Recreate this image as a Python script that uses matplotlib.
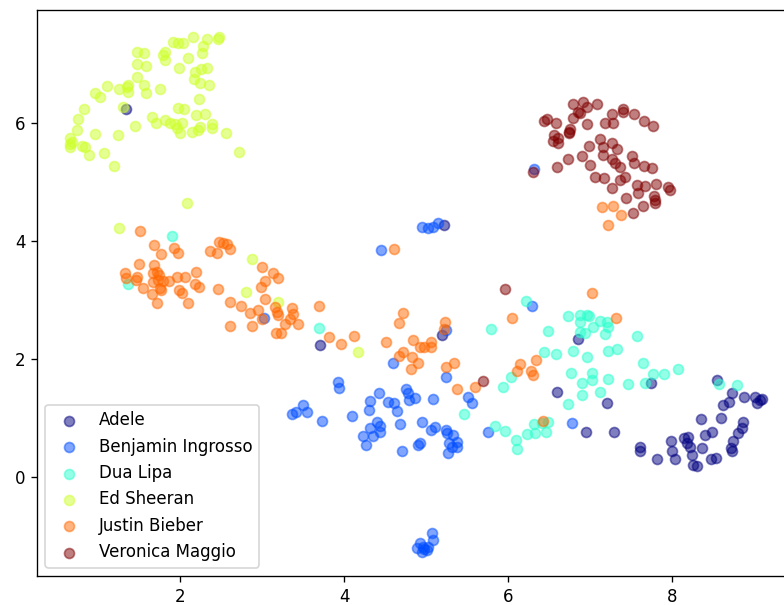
import matplotlib.pyplot as plt
import numpy as np

artists = ["Adele", "Benjamin Ingrosso", "Dua Lipa", "Ed Sheeran",
           "Justin Bieber", "Veronica Maggio"]

# 2D embedding coordinates (x, y), one array per artist
adele = np.array([
    (1.34, 6.24), (3.71, 2.24), (5.20, 2.41), (5.22, 4.27), (6.85, 2.34),
    (7.74, 1.59), (6.60, 1.44), (7.21, 1.25), (6.95, 0.76), (7.29, 0.76),
    (7.61, 0.51), (7.61, 0.44), (7.82, 0.31), (7.99, 0.61), (8.00, 0.44),
    (8.04, 0.31), (8.15, 0.66), (8.20, 0.68), (8.18, 0.58), (8.22, 0.51),
    (8.24, 0.37), (8.26, 0.20), (8.30, 0.19), (8.35, 0.98), (8.37, 0.49),
    (8.40, 0.71), (8.49, 0.76), (8.48, 0.31), (8.54, 0.32), (8.60, 1.00),
    (8.62, 1.22), (8.70, 1.27), (8.73, 1.42), (8.55, 1.64), (8.88, 1.36),
    (9.01, 1.36), (9.04, 1.25), (9.07, 1.31), (9.10, 1.32), (8.87, 0.93),
    (8.85, 0.83), (8.80, 0.75), (8.74, 0.61), (8.72, 0.49), (8.73, 0.44),
])

benjamin = np.array([
    (4.95, 4.24), (5.02, 4.22), (5.09, 4.24), (5.15, 4.31), (4.45, 3.85),
    (6.29, 2.90), (6.32, 5.22), (3.02, 2.69), (5.24, 2.49), (5.24, 1.69),
    (5.51, 1.36), (4.60, 1.93), (3.93, 1.61), (3.94, 1.51), (4.43, 1.42),
    (4.76, 1.49), (4.78, 1.42), (3.37, 1.07), (3.42, 1.10), (3.50, 1.22),
    (3.55, 1.10), (3.73, 0.95), (4.10, 1.03), (4.32, 1.29), (4.30, 1.14),
    (4.54, 1.27), (4.61, 1.25), (4.65, 1.12), (4.79, 1.31), (4.87, 1.34),
    (5.09, 1.32), (4.40, 0.93), (4.44, 0.86), (4.32, 0.83), (4.23, 0.69),
    (4.27, 0.54), (4.35, 0.69), (4.44, 0.76), (4.68, 0.90), (4.95, 0.93),
    (5.06, 0.80), (5.11, 0.85), (5.24, 0.80), (5.26, 0.75), (5.33, 0.71),
    (5.28, 0.58), (5.38, 0.59), (5.32, 0.51), (5.27, 0.41), (5.38, 0.51),
    (4.90, 0.54), (4.93, 0.58), (4.71, 0.44), (5.76, 0.76), (5.56, 1.25),
    (4.93, -1.12), (4.96, -1.19), (4.89, -1.20), (5.01, -1.24), (5.07, -0.95),
    (5.09, -1.07), (4.95, -1.27), (4.98, -1.22), (5.02, -1.18), (6.78, 0.92),
])

dua = np.array([
    (1.90, 4.08), (1.37, 3.27), (3.70, 2.53), (6.22, 2.98), (5.79, 2.51),
    (6.49, 2.47), (6.73, 2.73), (6.88, 2.75), (6.96, 2.75), (6.99, 2.73),
    (6.88, 2.63), (6.88, 2.46), (6.94, 2.44), (7.04, 2.54), (7.12, 2.64),
    (7.21, 2.63), (7.22, 2.54), (7.18, 2.42), (7.57, 2.39), (6.44, 2.12),
    (6.59, 2.08), (6.79, 2.14), (6.96, 2.03), (7.22, 2.14), (7.33, 2.17),
    (6.04, 1.69), (5.94, 1.53), (6.77, 1.76), (6.90, 1.59), (7.02, 1.76),
    (7.02, 1.64), (7.22, 1.66), (7.46, 1.58), (7.65, 1.93), (7.67, 1.59),
    (7.77, 1.75), (7.90, 1.75), (8.07, 1.83), (6.90, 1.39), (7.12, 1.44),
    (5.46, 1.07), (5.84, 0.86), (5.96, 0.78), (6.10, 0.63), (6.11, 0.47),
    (6.23, 0.73), (6.32, 0.90), (6.33, 0.75), (6.46, 0.76), (6.49, 0.93),
    (6.41, 0.92), (6.73, 1.24), (8.79, 1.56), (8.57, 1.58),
])

ed = np.array([
    (2.48, 7.46), (2.46, 7.42), (2.33, 7.42), (2.16, 7.46), (1.91, 7.37),
    (1.98, 7.36), (2.04, 7.36), (2.28, 7.30), (2.27, 7.19), (1.82, 7.20),
    (1.79, 7.15), (1.82, 7.07), (1.48, 7.20), (1.56, 7.19), (2.10, 7.10),
    (1.99, 6.93), (1.48, 7.00), (1.59, 6.97), (2.18, 6.86), (2.26, 6.92),
    (2.33, 6.93), (2.17, 6.75), (2.24, 6.68), (2.35, 6.64), (1.48, 6.78),
    (1.56, 6.64), (1.59, 6.51), (1.76, 6.58), (1.37, 6.64), (1.35, 6.61),
    (1.26, 6.58), (1.37, 6.53), (1.11, 6.63), (0.96, 6.51), (1.02, 6.44),
    (2.23, 6.41), (1.30, 6.27), (1.98, 6.25), (2.05, 6.24), (0.83, 6.24),
    (0.76, 6.07), (1.66, 6.10), (1.71, 6.00), (1.82, 6.05), (1.88, 6.00),
    (1.94, 5.98), (2.02, 6.00), (1.96, 5.92), (2.00, 5.83), (2.20, 6.14),
    (2.30, 6.15), (2.39, 5.98), (2.39, 5.92), (2.24, 5.93), (2.22, 5.88),
    (2.15, 5.85), (2.56, 5.83), (2.72, 5.51), (1.45, 5.95), (0.74, 5.88),
    (0.96, 5.81), (1.24, 5.80), (0.66, 5.75), (0.66, 5.64), (0.68, 5.68),
    (0.66, 5.59), (0.80, 5.61), (0.84, 5.59), (0.89, 5.46), (1.07, 5.49),
    (1.20, 5.27), (2.09, 4.64), (1.26, 4.22), (2.88, 3.69), (2.80, 3.14),
    (3.20, 2.97), (4.17, 2.12),
])

justin = np.array([
    (1.51, 4.17), (1.68, 3.93), (1.77, 3.78), (1.93, 3.88), (1.98, 3.80),
    (2.48, 3.98), (2.52, 3.97), (2.57, 3.95), (2.37, 3.83), (2.45, 3.80),
    (2.61, 3.86), (1.50, 3.61), (1.68, 3.59), (1.33, 3.46), (1.34, 3.37),
    (1.48, 3.39), (1.46, 3.34), (1.67, 3.46), (1.72, 3.47), (1.74, 3.42),
    (1.67, 3.31), (1.73, 3.34), (1.79, 3.32), (1.87, 3.32), (1.96, 3.39),
    (2.06, 3.39), (2.20, 3.47), (2.18, 3.27), (2.23, 3.22), (1.55, 3.20),
    (1.76, 3.20), (1.77, 3.17), (1.66, 3.10), (1.99, 3.17), (2.02, 3.12),
    (1.72, 2.95), (2.10, 2.95), (2.46, 3.19), (2.61, 2.97), (2.74, 2.90),
    (2.85, 2.78), (2.95, 2.83), (2.61, 2.56), (2.88, 2.56), (3.00, 3.56),
    (3.13, 3.46), (3.20, 3.37), (3.04, 3.32), (2.99, 3.22), (3.04, 3.02),
    (3.16, 2.88), (3.18, 2.80), (3.20, 2.75), (3.00, 2.68), (3.37, 2.86),
    (3.38, 2.76), (3.34, 2.68), (3.28, 2.59), (3.44, 2.59), (3.17, 2.44),
    (3.23, 2.44), (3.70, 2.90), (3.82, 2.37), (3.96, 2.25), (4.12, 2.39),
    (4.61, 3.86), (4.72, 2.78), (4.67, 2.61), (4.51, 2.29), (4.84, 2.32),
    (4.93, 2.20), (4.98, 2.20), (5.06, 2.29), (5.06, 2.20), (4.72, 2.12),
    (4.67, 2.05), (4.83, 2.03), (4.90, 1.93), (4.82, 1.83), (5.23, 2.63),
    (5.22, 2.51), (5.24, 1.86), (5.34, 1.93), (5.38, 1.49), (5.60, 1.53),
    (6.05, 2.69), (7.02, 3.12), (7.32, 2.69), (6.15, 1.92), (6.11, 1.80),
    (6.34, 1.98), (6.28, 1.80), (6.30, 1.73), (6.43, 0.95), (7.15, 4.58),
    (7.28, 4.59), (7.38, 4.44), (7.22, 4.27),
])

veronica = np.array([
    (6.79, 6.32), (6.91, 6.36), (6.96, 6.27), (6.88, 6.17), (6.85, 6.19),
    (7.09, 6.32), (7.40, 6.24), (7.40, 6.19), (7.54, 6.15), (7.66, 6.03),
    (7.77, 5.95), (7.27, 6.15), (7.18, 6.00), (7.28, 6.00), (6.96, 5.98),
    (6.79, 6.08), (6.76, 5.90), (6.44, 6.03), (6.48, 6.07), (6.59, 6.00),
    (6.56, 5.80), (6.61, 5.75), (6.55, 5.69), (6.61, 5.66), (6.74, 5.85),
    (6.74, 5.83), (6.99, 5.61), (7.12, 5.73), (7.27, 5.66), (7.16, 5.59),
    (7.33, 5.56), (7.16, 5.46), (7.27, 5.39), (7.30, 5.32), (7.51, 5.44),
    (7.54, 5.32), (7.37, 5.25), (6.90, 5.44), (6.73, 5.39), (6.60, 5.25),
    (7.00, 5.29), (7.06, 5.08), (7.17, 5.07), (7.37, 5.03), (7.43, 5.08),
    (7.66, 5.27), (7.76, 5.24), (7.27, 4.90), (7.57, 4.95), (7.67, 4.93),
    (7.80, 4.97), (7.59, 4.81), (7.95, 4.92), (7.98, 4.86), (7.78, 4.76),
    (7.79, 4.69), (7.44, 4.73), (7.52, 4.47), (7.65, 4.59), (7.79, 4.64),
    (6.30, 5.17), (5.96, 3.19), (5.70, 1.63),
])

points = [adele, benjamin, dua, ed, justin, veronica]
colors = plt.cm.jet(np.linspace(0, 1, len(artists)))

fig = plt.figure(figsize=(784 / 120, 605 / 120), dpi=120)
ax = fig.add_axes([37 / 784, 29 / 605, 754 / 784, 566 / 605])

for name, pts, c in zip(artists, points, colors):
    ax.scatter(pts[:, 0], pts[:, 1], color=c, alpha=0.5, label=name)

ax.set_xlim(0.256, 9.45)
ax.set_ylim(-1.678, 7.915)
ax.set_xticks([2, 4, 6, 8])
ax.set_yticks([0, 2, 4, 6])
ax.legend(loc="lower left")

fig.savefig("out.png", dpi=120)
